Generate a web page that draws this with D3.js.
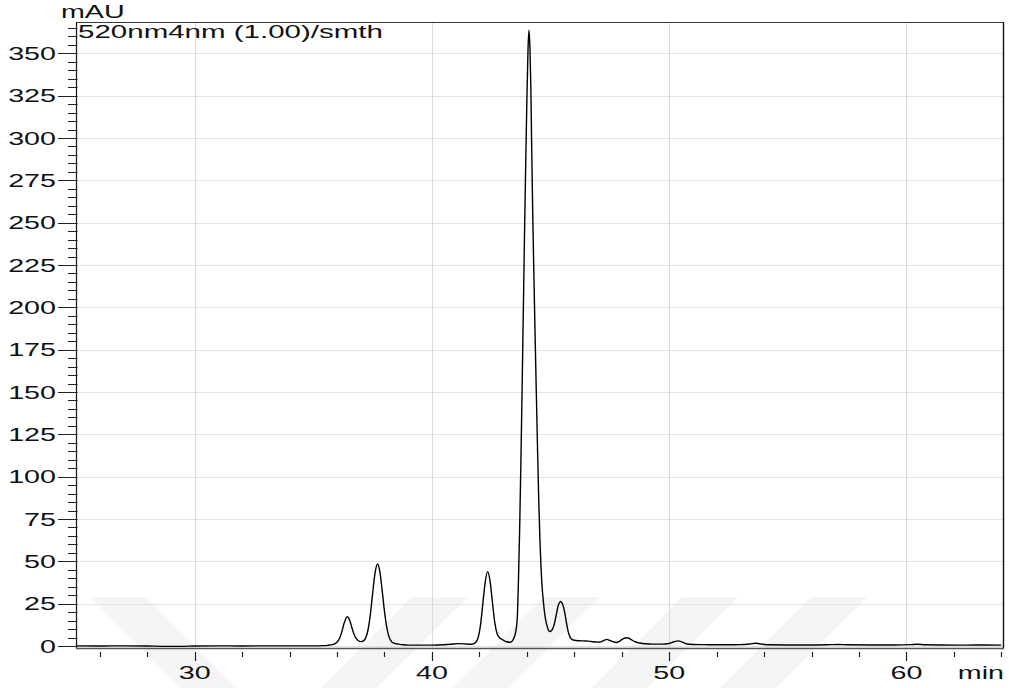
<!DOCTYPE html>
<html>
<head>
<meta charset="utf-8">
<script src="https://cdn.jsdelivr.net/npm/d3@7"></script>
<style>
  html, body { margin: 0; padding: 0; background: #ffffff; }
  svg { display: block; font-family: "Liberation Sans", Arial, Helvetica, sans-serif; }
</style>
</head>
<body>
<script>
// Chromatogram trace: retention time (min) and detector response (mAU)
const retentionTime = [
  25.0, 26.0, 27.0, 28.0, 28.8, 29.4, 30.0, 31.0, 32.0, 33.0, 34.0, 35.0, 35.4,
  35.6, 35.8, 35.9, 36.0, 36.1, 36.2, 36.3, 36.43, 36.5, 36.6, 36.7, 36.8, 36.9,
  37.0, 37.1, 37.2, 37.3, 37.4, 37.5, 37.6, 37.71, 37.8, 37.9, 38.0, 38.1, 38.2,
  38.3, 38.4, 38.6, 38.8, 39.0, 39.5, 40.0, 40.5, 40.8, 41.1, 41.4, 41.6, 41.75,
  41.85, 41.95, 42.05, 42.15, 42.25, 42.35, 42.45, 42.55, 42.65, 42.75, 42.85,
  42.95, 43.05, 43.15, 43.3, 43.4, 43.5, 43.55, 43.6, 43.65, 43.7, 43.75, 43.8,
  43.85, 43.9, 43.95, 44.0, 44.05, 44.09, 44.13, 44.17, 44.2, 44.25, 44.3, 44.35,
  44.4, 44.45, 44.5, 44.55, 44.6, 44.65, 44.7, 44.75, 44.8, 44.85, 44.9, 44.97,
  45.05, 45.1, 45.15, 45.2, 45.25, 45.3, 45.35, 45.43, 45.5, 45.55, 45.6, 45.65,
  45.7, 45.75, 45.8, 45.85, 45.9, 46.0, 46.2, 46.4, 46.6, 46.8, 47.0, 47.15, 47.25,
  47.38, 47.5, 47.65, 47.78, 47.9, 48.05, 48.22, 48.4, 48.55, 48.75, 49.0, 49.3,
  49.7, 50.0, 50.2, 50.38, 50.55, 50.75, 51.0, 51.5, 52.0, 52.5, 53.0, 53.4, 53.65,
  53.9, 54.2, 55.0, 56.0, 56.8, 57.1, 57.5, 58.5, 59.5, 60.2, 60.45, 60.8, 61.5,
  62.5, 63.3, 64.0
];
const response = [
  0.1, 0.0, 0.1, 0.0, -0.2, -0.2, 0.0, 0.1, 0.0, 0.1, 0.1, 0.1, 0.2,
  0.4, 0.8, 1.3, 2.2, 4.3, 8.2, 13.4, 17.3, 16.4, 12.2, 7.6, 4.6, 3.1,
  2.6, 2.9, 4.5, 9.0, 17.9, 30.7, 42.7, 48.4, 44.5, 33.3, 20.6, 10.9, 5.1,
  2.6, 1.7, 1.1, 0.7, 0.5, 0.5, 0.5, 0.7, 1.0, 1.4, 1.2, 1.0, 1.3,
  2.2, 5.0, 12.5, 25.5, 38.0, 43.9, 38.5, 26.0, 13.8, 7.2, 4.9,
  4.0, 3.1, 2.5, 2.2, 3.2, 6.5, 9.8, 17, 40, 70, 108, 150,
  195, 240, 282, 320, 352, 363.6, 354, 330, 300, 255, 218, 183,
  150, 118, 88, 64, 46, 34, 26, 19.5, 15, 12, 9.8, 8.5,
  9.3, 10.5, 12.5, 15.5, 19.0, 22.5, 25.0, 26.3, 25.0, 22.8, 19.5, 15.5,
  11.5, 8.2, 6.0, 4.6, 3.9, 3.4, 3.1, 3.0, 2.9, 2.5, 2.3, 2.6, 3.3,
  3.9, 3.3, 2.4, 2.1, 2.8, 4.2, 4.9, 3.8, 2.6, 1.8, 1.3, 1.1,
  1.1, 1.5, 2.5, 3.0, 2.3, 1.2, 0.9, 0.8, 0.7, 0.7, 0.8, 1.2, 1.6,
  1.1, 0.7, 0.6, 0.6, 0.8, 0.9, 0.7, 0.6, 0.6, 0.8, 1.0, 0.7, 0.6,
  0.5, 0.6, 0.5
];

// Axis ticks and labels
const yMajorTicks = [0, 25, 50, 75, 100, 125, 150, 175, 200, 225, 250, 275, 300, 325, 350];
const yMinorStep = 5;
const xMajorTicks = [30, 40, 50, 60];
const xMinorTicks = [26, 28, 32, 34, 36, 38, 42, 44, 46, 48, 52, 54, 56, 58, 62, 64];
const yUnit = "mAU";
const xUnit = "min";
const channelLabel = "520nm4nm (1.00)/smth";

// Layout
const W = 1009, H = 688;
const plot = { left: 76, right: 1003, top: 22, bottom: 648 };
const TEXT_SX = 1.55;     // horizontally widened glyphs
const FONT = 18.5;

const x = d3.scaleLinear().domain([25, 64.07]).range([plot.left, plot.right]);
const y = d3.scaleLinear().domain([-1.18, 368.5]).range([plot.bottom, plot.top]);

const svg = d3.select("body").append("svg").attr("width", W).attr("height", H);

// Background watermark stripes
const stripeTop = 597, stripeBottom = 700, stripeW = 56;
const stripes = [
  { x0: 90, dir: 1 },
  { x0: 412, dir: -1 },
  { x0: 544, dir: -1 },
  { x0: 682, dir: -1 },
  { x0: 811, dir: -1 }
];
const wm = svg.append("g").attr("fill", "rgba(0,0,0,0.045)");
stripes.forEach(s => {
  const dy = stripeBottom - stripeTop;
  const sh = s.dir * dy;
  wm.append("path").attr("d",
    `M${s.x0},${stripeTop} L${s.x0 + stripeW},${stripeTop} L${s.x0 + stripeW + sh},${stripeBottom} L${s.x0 + sh},${stripeBottom} Z`);
});

// Grid
const grid = svg.append("g");
grid.selectAll("line.h").data(yMajorTicks).join("line")
  .attr("x1", plot.left).attr("x2", plot.right)
  .attr("y1", d => Math.round(y(d)) + 0.5).attr("y2", d => Math.round(y(d)) + 0.5)
  .attr("stroke", "#e3e3e3").attr("stroke-width", 1);
grid.selectAll("line.v").data(xMajorTicks).join("line")
  .attr("y1", plot.top).attr("y2", plot.bottom)
  .attr("x1", d => Math.round(x(d)) + 0.5).attr("x2", d => Math.round(x(d)) + 0.5)
  .attr("stroke", "#dadada").attr("stroke-width", 1);

// Frame: top and right borders
svg.append("line").attr("x1", plot.left).attr("x2", plot.right + 0.5)
  .attr("y1", plot.top + 0.5).attr("y2", plot.top + 0.5)
  .attr("stroke", "#3a3a3a").attr("stroke-width", 1.2);
svg.append("line").attr("x1", plot.right + 0.5).attr("x2", plot.right + 0.5)
  .attr("y1", plot.top).attr("y2", plot.bottom)
  .attr("stroke", "#111").attr("stroke-width", 1.4);

// Y axis
const yAxisG = svg.append("g");
yAxisG.append("line").attr("x1", plot.left + 0.5).attr("x2", plot.left + 0.5)
  .attr("y1", plot.top).attr("y2", plot.bottom)
  .attr("stroke", "#111").attr("stroke-width", 1.2);
const yMinor = d3.range(0, 366, yMinorStep).filter(v => v % 25 !== 0);
yAxisG.selectAll("line.ymin").data(yMinor).join("line")
  .attr("x1", plot.left - 8).attr("x2", plot.left + 1.5)
  .attr("y1", d => Math.round(y(d)) + 0.5).attr("y2", d => Math.round(y(d)) + 0.5)
  .attr("stroke", "#222").attr("stroke-width", 1);
yAxisG.selectAll("line.ymaj").data(yMajorTicks).join("line")
  .attr("x1", plot.left - 18).attr("x2", plot.left + 1.5)
  .attr("y1", d => Math.round(y(d)) + 0.5).attr("y2", d => Math.round(y(d)) + 0.5)
  .attr("stroke", "#222").attr("stroke-width", 1);
yAxisG.selectAll("text").data(yMajorTicks).join("text")
  .attr("transform", d => `translate(${plot.left - 20},${y(d) + 6.8}) scale(${TEXT_SX},1)`)
  .attr("text-anchor", "end").attr("font-size", FONT).attr("fill", "#111")
  .text(d => d);

// X axis
const xAxisG = svg.append("g");
xAxisG.append("line").attr("x1", plot.left).attr("x2", plot.right + 1)
  .attr("y1", plot.bottom + 0.5).attr("y2", plot.bottom + 0.5)
  .attr("stroke", "#555").attr("stroke-width", 1.6);
xAxisG.selectAll("line.xmin").data(xMinorTicks).join("line")
  .attr("x1", d => Math.round(x(d)) + 0.5).attr("x2", d => Math.round(x(d)) + 0.5)
  .attr("y1", plot.bottom + 4).attr("y2", plot.bottom + 9)
  .attr("stroke", "#222").attr("stroke-width", 1.2);
xAxisG.selectAll("line.xmaj").data(xMajorTicks).join("line")
  .attr("x1", d => Math.round(x(d)) + 0.5).attr("x2", d => Math.round(x(d)) + 0.5)
  .attr("y1", plot.bottom + 4).attr("y2", plot.bottom + 13)
  .attr("stroke", "#222").attr("stroke-width", 1.2);
xAxisG.selectAll("text").data(xMajorTicks).join("text")
  .attr("transform", d => `translate(${x(d)},678.5) scale(${TEXT_SX},1)`)
  .attr("text-anchor", "middle").attr("font-size", FONT).attr("fill", "#111")
  .text(d => d);
svg.append("text")
  .attr("transform", `translate(1004,678.5) scale(${TEXT_SX},1)`)
  .attr("text-anchor", "end").attr("font-size", FONT).attr("fill", "#111")
  .text(xUnit);

// Unit and channel labels
svg.append("text")
  .attr("transform", `translate(61,17.5) scale(${TEXT_SX},1)`)
  .attr("font-size", FONT).attr("fill", "#111").text(yUnit);
svg.append("text")
  .attr("x", 78).attr("y", 37.5)
  .attr("font-size", FONT).attr("fill", "#111")
  .attr("textLength", 305).attr("lengthAdjust", "spacingAndGlyphs")
  .text(channelLabel);

// Trace
const pts = retentionTime.map((t, i) => [t, response[i]]);
const line = d3.line().x(d => x(d[0])).y(d => y(d[1])).curve(d3.curveMonotoneX);
svg.append("path").datum(pts)
  .attr("d", line)
  .attr("fill", "none").attr("stroke", "#000").attr("stroke-width", 1.4)
  .attr("stroke-linejoin", "round");
</script>
</body>
</html>
